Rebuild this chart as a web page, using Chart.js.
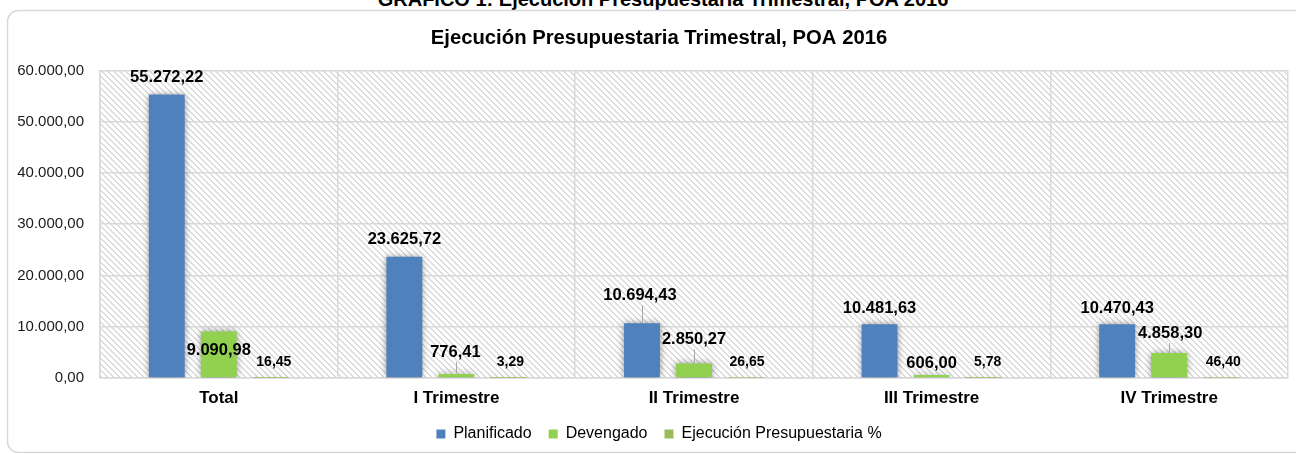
<!DOCTYPE html>
<html>
<head>
<meta charset="utf-8">
<script src="https://cdn.jsdelivr.net/npm/chart.js@4/dist/chart.umd.min.js"></script>
<style>
  html, body { margin: 0; padding: 0; background: #fff; overflow: hidden; }
  #wrap { position: relative; width: 1296px; height: 454px; overflow: hidden; }
  #toptitle { position: absolute; left: 0; width: 1326px; top: -11px; text-align: center;
    font: bold 20px "Liberation Sans", Arial, sans-serif; line-height: 20px; color: #000; white-space: nowrap; }
  canvas { position: absolute; left: 0; top: 0; }
</style>
</head>
<body>
<div id="wrap">
  <div id="toptitle">GRÁFICO 1: Ejecución Presupuestaria Trimestral, POA 2016</div>
  <canvas id="c" width="1296" height="454"></canvas>
</div>
<script>
const categories = ['Total', 'I Trimestre', 'II Trimestre', 'III Trimestre', 'IV Trimestre'];
const planificado = [55272.22, 23625.72, 10694.43, 10481.63, 10470.43];
const devengado = [9090.98, 776.41, 2850.27, 606.00, 4858.30];
const ejecucion = [16.45, 3.29, 26.65, 5.78, 46.40];
const seriesNames = ['Planificado', 'Devengado', 'Ejecución Presupuestaria %'];
const yTicks = [0, 10000, 20000, 30000, 40000, 50000, 60000];

function fmt(v) {
  const parts = Number(v).toFixed(2).split('.');
  parts[0] = parts[0].replace(/\B(?=(\d{3})+(?!\d))/g, '.');
  return parts.join(',');
}

const FONT = '"Liberation Sans", Arial, sans-serif';

// widest y tick label (for right-aligned mirrored ticks)
const mctx = document.createElement('canvas').getContext('2d');
mctx.font = '15px ' + FONT;
const widestTick = Math.max(...yTicks.map(v => mctx.measureText(fmt(v)).width));

// hatch pattern for plot background
function makeHatch() {
  const s = 6;
  const c = document.createElement('canvas');
  c.width = s; c.height = s;
  const g = c.getContext('2d');
  g.fillStyle = '#ffffff';
  g.fillRect(0, 0, s, s);
  g.fillStyle = '#dcdcdc';
  for (let y = 0; y < s; y++) {
    for (let x = 0; x < s; x++) {
      const d = ((x - y) % s + s) % s;
      if (d === 0 || d === 1) g.fillRect(x, y, 1, 1);
    }
  }
  return g.createPattern(c, 'repeat');
}

const decorPlugin = {
  id: 'decor',
  beforeDraw(chart) {
    const ctx = chart.ctx;
    const a = chart.chartArea;
    ctx.save();
    ctx.strokeStyle = '#d9d9d9';
    ctx.lineWidth = 1.5;
    ctx.beginPath();
    ctx.roundRect(7.5, 10.5, 1330, 442, 11);
    ctx.stroke();
    ctx.fillStyle = makeHatch();
    ctx.fillRect(a.left, a.top, a.right - a.left, a.bottom - a.top);
    ctx.restore();
  },
  beforeDatasetsDraw(chart) {
    const ctx = chart.ctx;
    ctx.save();
    ctx.shadowColor = 'rgba(0,0,0,0.45)';
    ctx.shadowBlur = 7;
    ctx.shadowOffsetX = 0;
    ctx.shadowOffsetY = 0;
  },
  afterDatasetsDraw(chart, args, opts) {
    const ctx = chart.ctx;
    ctx.restore();
    ctx.save();
    ctx.textAlign = 'center';
    ctx.textBaseline = 'middle';
    chart.data.datasets.forEach((ds, di) => {
      const meta = chart.getDatasetMeta(di);
      const cfg = opts.series[di];
      ctx.font = cfg.font;
      meta.data.forEach((el, i) => {
        const lx = el.x + cfg.dx[i], ly = el.y + cfg.dy[i];
        if (cfg.leader[i]) {
          ctx.strokeStyle = '#a6a6a6';
          ctx.lineWidth = 1;
          ctx.beginPath();
          ctx.moveTo(Math.round(el.x) + 0.5, ly + 10);
          ctx.lineTo(Math.round(el.x) + 0.5, el.y - 1);
          ctx.stroke();
        }
        ctx.fillStyle = '#000';
        ctx.fillText(fmt(ds.data[i]), lx, ly);
      });
    });
    ctx.restore();
  }
};

new Chart(document.getElementById('c'), {
  type: 'bar',
  data: {
    labels: categories,
    datasets: [
      { label: seriesNames[0], data: planificado, backgroundColor: '#4F81BD' },
      { label: seriesNames[1], data: devengado, backgroundColor: '#92D050' },
      { label: seriesNames[2], data: ejecucion, backgroundColor: '#9BBB59' }
    ]
  },
  options: {
    responsive: false,
    animation: false,
    devicePixelRatio: 1,
    layout: { padding: { left: 30, right: 8, top: 0, bottom: 2 } },
    datasets: { bar: { categoryPercentage: 0.657, barPercentage: 0.69 } },
    scales: {
      x: {
        grid: { color: '#d9d9d9', lineWidth: 1.5, drawTicks: false, offset: true },
        border: { color: '#d9d9d9', width: 1.5 },
        ticks: { color: '#000', padding: 10, font: { family: FONT, size: 17, weight: 'bold' } },
        afterFit(s) { s.height = 31; }
      },
      y: {
        min: 0, max: 60000,
        afterBuildTicks(s) { s.ticks = yTicks.map(v => ({ value: v })); },
        grid: { color: '#d9d9d9', lineWidth: 1.5, drawTicks: false },
        border: { color: '#d9d9d9', width: 1.5 },
        ticks: {
          color: '#1a1a1a', mirror: true, crossAlign: 'far', padding: -16 - widestTick,
          font: { family: FONT, size: 15 }, callback: v => fmt(v)
        },
        afterFit(s) { s.width = 70; }
      }
    },
    plugins: {
      title: {
        display: true,
        text: 'Ejecución Presupuestaria Trimestral, POA 2016',
        color: '#000',
        font: { family: FONT, size: 20.3, weight: 'bold' },
        padding: { top: 26, bottom: 20 }
      },
      legend: {
        position: 'bottom',
        labels: {
          color: '#000',
          boxWidth: 9, boxHeight: 9,
          padding: 17,
          font: { family: FONT, size: 16 }
        }
      },
      tooltip: { enabled: false },
      decor: {
        series: [
          { font: 'bold 16.5px ' + FONT, dx: [0, 0, -2, 0, 0], dy: [-17, -17, -28, -16, -16], leader: [false, false, true, false, false] },
          { font: 'bold 16.5px ' + FONT, dx: [0, -1, 0, 0, 1], dy: [19.5, -22, -24, -11, -20], leader: [false, true, true, false, true] },
          { font: 'bold 14px ' + FONT, dx: [3, 2, 1, 4, 2], dy: [-16, -16, -16, -16, -16], leader: [false, false, false, false, false] }
        ]
      }
    }
  },
  plugins: [decorPlugin]
});
</script>
</body>
</html>
